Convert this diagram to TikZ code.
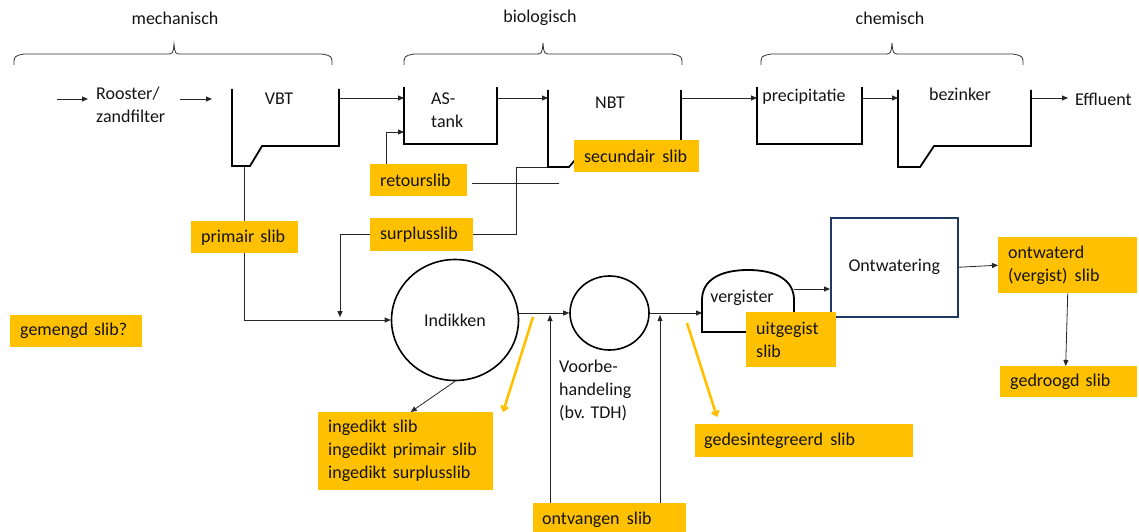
\documentclass[tikz,border=0pt]{standalone}
\usepackage{fontspec}
\setmainfont{Carlito}
\usetikzlibrary{arrows.meta,shapes.geometric,calc,backgrounds}
\definecolor{slibor}{HTML}{FFC000}
\definecolor{navy}{HTML}{203864}
\definecolor{txt}{HTML}{141414}
\begin{document}
\begin{tikzpicture}[x=1pt,y=-1pt,
  every node/.style={text=txt},
  font=\fontsize{18}{23}\selectfont,
  arr/.style={-{Triangle[length=6pt,width=5pt]}, line width=0.8pt, draw=black!85},
  ln/.style={line width=0.8pt, draw=black!85},
  brace/.style={line width=0.8pt, draw=black!80},
  wall/.style={line width=1.8pt, draw=black},
  slib/.style={fill=slibor, draw=none, anchor=north west, inner xsep=10pt, inner ysep=0pt, align=left},
  lbl/.style={inner sep=0pt, align=left},
  orarr/.style={draw=slibor, line width=2.6pt, -{Straight Barb[length=4pt,width=7pt]}}]
\useasboundingbox (0,0) rectangle (1139,532);

% braces
\draw[brace] (14,65) .. controls (14,56) .. (24,54) -- (166,54) .. controls (173,54) .. (174,44) .. controls (175,54) .. (182,54) -- (322,54) .. controls (332,56) .. (332,65);
\draw[brace] (404,65) .. controls (404,56) .. (414,54) -- (535,54) .. controls (542,54) .. (543,43) .. controls (544,54) .. (551,54) -- (672,54) .. controls (682,56) .. (682,65);
\draw[brace] (761,65) .. controls (761,56) .. (771,54) -- (884,54) .. controls (891,54) .. (892,43) .. controls (893,54) .. (900,54) -- (1013,54) .. controls (1023,56) .. (1023,65);
\node[lbl] (mech) at (175,18) {mechanisch};
\node[lbl] (bio) at (540,18) {biologisch};
\node[lbl] (chem) at (890,18) {chemisch};

% tanks
\draw[wall] (232,89) -- (232,166) -- (250,166) -- (262,146) -- (339,146) -- (339,89);
\draw[wall] (404,87) -- (404,144) -- (497,144) -- (497,87);
\draw[wall] (548,90) -- (548,167) -- (569,167) -- (575,160);
\draw[wall] (681,90) -- (681,145);
\draw[wall] (757,87) -- (757,144) -- (862,144) -- (862,87);
\draw[wall] (898,90) -- (898,167) -- (920,167) -- (934,146) -- (1031,146) -- (1031,90);
\draw[wall] (746,332) -- (702,332) -- (702,300) .. controls (702,280) and (720,270) .. (748,270) .. controls (776,270) and (794,280) .. (794,300) -- (794,318);

\coordinate (in0) at (57,99);
\coordinate (rIn) at (88,99);
\coordinate (rOut) at (180,99);
\coordinate (vbtIn) at (212,99);
\coordinate (vbtR) at (339,98);
\coordinate (vbtOut) at (244,166);
\coordinate (asL) at (404,98);
\coordinate (asR) at (497,98);
\coordinate (asRet) at (404,132);
\coordinate (nbtL) at (548,98);
\coordinate (nbtR) at (681,98);
\coordinate (nbtOut) at (548,167);
\coordinate (prL) at (757,98);
\coordinate (prR) at (862,98);
\coordinate (bzL) at (898,98);
\coordinate (bzR) at (1031,98);
\coordinate (verL) at (702,313);
\coordinate (verR) at (794,289);

% text labels
\node[lbl, anchor=west] (rooster) at (96,105) {Rooster/\\zandfilter};
\node[lbl] (vbt) at (279,99) {VBT};
\node[lbl, anchor=west] (astank) at (431,110) {AS-\\tank};
\node[lbl] (nbt) at (610,103) {NBT};
\node[lbl] (precip) at (804,97) {precipitatie};
\node[lbl] (bezinker) at (960,94) {bezinker};
\node[lbl, anchor=west] (effluent) at (1075,99) {Effluent};
\node[lbl] (vergister) at (742,298) {vergister};
\node[lbl, anchor=west] (voorbe) at (559,390) {Voorbe-\\handeling\\(bv. TDH)};

% process nodes
\node[draw=black, line width=1.6pt, ellipse, minimum width=127pt, minimum height=121pt, inner sep=0pt] (indik) at (455,320) {Indikken};
\node[draw=black, line width=1.6pt, ellipse, minimum width=79pt, minimum height=74pt, inner sep=0pt] (smc) at (609.5,313) {};
\node[draw=navy, line width=1.5pt, minimum width=127pt, minimum height=99pt, anchor=north west, inner sep=0pt] (ontw) at (830,217) {Ontwatering};

% sludge boxes
\node[slib, text width=87pt, minimum height=32pt] (primair) at (191,221) {primair slib};
\node[slib, text width=77pt, minimum height=32pt] (retour) at (370,164) {retourslib};
\node[slib, text width=83pt, minimum height=33pt] (surplus) at (370,218) {surplusslib};
\node[slib, text width=105pt, minimum height=32pt] (secundair) at (574,140) {secundair\hspace{0.4em}slib};
\node[slib, text width=112pt, minimum height=32pt] (gemengd) at (10,315) {gemengd slib?};
\node[slib, text width=155pt, minimum height=78pt] (ingedikt) at (318,412) {ingedikt slib\\ingedikt primair slib\\ingedikt surplusslib};
\node[slib, inner xsep=9pt, text width=135pt, minimum height=33pt] (ontvangen) at (533,503) {ontvangen\hspace{0.4em}slib};
\node[slib, text width=200pt, inner xsep=9pt, minimum height=33pt] (gedesint) at (695,424) {gedesintegreerd\hspace{0.4em}slib};
\node[slib, text width=70pt, minimum height=55pt] (uitgegist) at (746,312) {uitgegist\\slib};
\node[slib, text width=119pt, minimum height=56pt] (ontwaterd) at (998,237) {ontwaterd\\(vergist)\hspace{0.4em}slib};
\node[slib, text width=117pt, minimum height=31pt] (gedroogd) at (1000,366) {gedroogd slib};

\coordinate (or1a) at (533,317);
\coordinate (or1b) at (503,412);
\coordinate (or2a) at (687,323);
\coordinate (or2b) at (717,417);

\begin{pgfonlayer}{background}
\draw[arr] (in0) -- (rIn);
\draw[arr] (rOut) -- (vbtIn);
\draw[arr] (vbtR) -- (asL);
\draw[arr] (asR) -- (nbtL);
\draw[arr] (nbtR) -- (prL);
\draw[arr] (prR) -- (bzL);
\draw[arr] (bzR) -- ++(37,0);
\draw[arr] ($(retour.north west)+(16,0)$) |- (asRet);
\draw[ln] ($(retour.east)+(5,3)$) -- ++(87,0);
\draw[ln] (surplus.east) -- ++(43,0) |- (nbtOut);
\draw[arr] (surplus.west) -- ++(-30,0) -- ++(0,82.5);
\draw[arr] (vbtOut) -- (vbtOut |- indik.west) -- (indik.west);
\draw[arr] (indik.east |- smc.west) -- (smc.west);
\draw[arr] (smc.east) -- (verL);
\draw[arr] ($(ontvangen.north west)+(17,0)$) -- ++(0,-188);
\draw[arr] ($(ontvangen.north west)+(127,0)$) -- ++(0,-188);
\draw[arr] (verR) -- (verR -| ontw.west);
\draw[arr] (ontw.east) -- (ontwaterd.west);
\draw[arr] (ontwaterd.south) -- ([xshift=-3pt]gedroogd.north);
\draw[arr] (indik.south) -- ([xshift=5pt]ingedikt.north);
\end{pgfonlayer}
\draw[orarr] (or1a) -- (or1b);
\draw[orarr] (or2a) -- (or2b);
\end{tikzpicture}
\end{document}
